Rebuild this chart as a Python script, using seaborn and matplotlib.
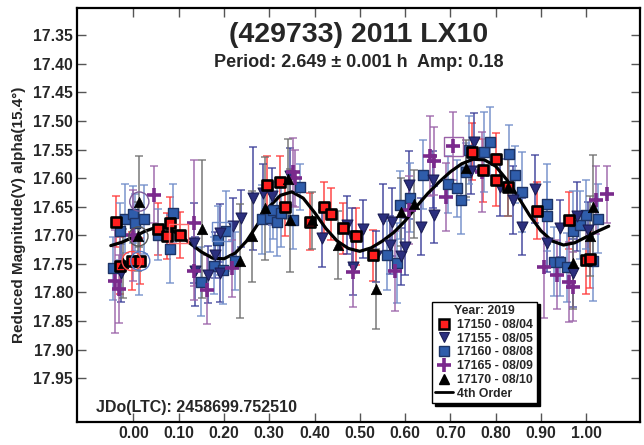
import matplotlib
matplotlib.use("Agg")
import matplotlib.pyplot as plt
from matplotlib.lines import Line2D
import numpy as np
import pandas as pd
import seaborn as sns

# ---- lightcurve data: phase, reduced magnitude, 1-sigma error ----
s17150_phase = [-0.038, -0.029, -0.004, 0.015, 0.055, 0.075, 0.081, 0.103, 0.295, 0.324,
                0.335, 0.390, 0.420, 0.436, 0.464, 0.492, 0.530, 0.748, 0.772, 0.801,
                0.801, 0.828, 0.891, 0.963, 0.999, 1.008]
s17150_mag = [17.676, 17.753, 17.745, 17.745, 17.689, 17.701, 17.678, 17.699, 17.612, 17.606,
              17.651, 17.676, 17.651, 17.663, 17.688, 17.702, 17.735, 17.554, 17.586, 17.566,
              17.603, 17.616, 17.657, 17.674, 17.743, 17.742]
s17150_err = [0.045, 0.050, 0.050, 0.040, 0.045, 0.040, 0.045, 0.040, 0.050, 0.045,
              0.050, 0.050, 0.045, 0.045, 0.045, 0.050, 0.045, 0.050, 0.055, 0.045,
              0.045, 0.050, 0.050, 0.050, 0.060, 0.050]

s17155_phase = [-0.028, 0.133, 0.136, 0.164, 0.180, 0.191, 0.191, 0.221, 0.237, 0.264,
                0.287, 0.307, 0.346, 0.417, 0.471, 0.482, 0.486, 0.508, 0.536, 0.552,
                0.566, 0.571, 0.591, 0.599, 0.609, 0.635, 0.661, 0.665, 0.745, 0.753,
                0.810, 0.839, 0.858, 0.888, 0.914, 0.943, 0.972, 0.979, 1.005]
s17155_mag = [17.766, 17.714, 17.763, 17.769, 17.734, 17.766, 17.696, 17.684, 17.670, 17.635,
              17.626, 17.632, 17.597, 17.705, 17.682, 17.702, 17.755, 17.689, 17.737, 17.671,
              17.717, 17.677, 17.737, 17.720, 17.612, 17.685, 17.603, 17.664, 17.587, 17.536,
              17.616, 17.638, 17.685, 17.619, 17.714, 17.688, 17.766, 17.667, 17.691]
s17155_err = [0.050, 0.070, 0.060, 0.050, 0.040, 0.050, 0.050, 0.050, 0.050, 0.090,
              0.050, 0.050, 0.050, 0.050, 0.050, 0.050, 0.050, 0.050, 0.045, 0.060,
              0.050, 0.060, 0.050, 0.050, 0.060, 0.050, 0.050, 0.050, 0.040, 0.050,
              0.050, 0.060, 0.050, 0.060, 0.050, 0.050, 0.060, 0.060, 0.050]

s17160_phase = [-0.046, -0.029, -0.018, 0.000, 0.004, 0.024, 0.013, 0.055, 0.081, 0.088,
                0.149, 0.177, 0.186, 0.197, 0.205, 0.225, 0.284, 0.301, 0.309, 0.318,
                0.326, 0.353, 0.367, 0.560, 0.583, 0.588, 0.611, 0.639, 0.694, 0.714,
                0.723, 0.735, 0.741, 0.775, 0.788, 0.830, 0.843, 0.858, 0.913, 0.913,
                0.928, 0.942, 0.957, 0.970, 0.987, 1.000, 1.015, 1.027]
s17160_mag = [17.758, 17.693, 17.671, 17.663, 17.678, 17.672, 17.745, 17.699, 17.724, 17.661,
              17.781, 17.753, 17.709, 17.760, 17.693, 17.745, 17.672, 17.670, 17.656, 17.676,
              17.661, 17.674, 17.615, 17.735, 17.749, 17.647, 17.634, 17.594, 17.611, 17.618,
              17.638, 17.589, 17.551, 17.555, 17.536, 17.557, 17.594, 17.625, 17.646, 17.667,
              17.746, 17.746, 17.756, 17.693, 17.682, 17.664, 17.745, 17.671]
s17160_err = [0.055, 0.050, 0.060, 0.050, 0.050, 0.060, 0.060, 0.045, 0.060, 0.050,
              0.060, 0.050, 0.060, 0.060, 0.070, 0.050, 0.060, 0.060, 0.050, 0.060,
              0.060, 0.050, 0.040, 0.060, 0.070, 0.060, 0.060, 0.060, 0.050, 0.050,
              0.060, 0.050, 0.060, 0.070, 0.060, 0.050, 0.050, 0.070, 0.070, 0.060,
              0.060, 0.060, 0.060, 0.070, 0.060, 0.060, 0.070, 0.060]

s17165_phase = [-0.040, -0.031, 0.000, 0.046, 0.133, 0.133, 0.162, 0.217, 0.353, 0.356,
                0.485, 0.578, 0.608, 0.656, 0.663, 0.691, 0.707, 0.770, 0.907, 0.935,
                0.963, 0.970, 1.022, 1.046]
s17165_mag = [17.780, 17.794, 17.700, 17.629, 17.679, 17.763, 17.795, 17.758, 17.589, 17.600,
              17.765, 17.762, 17.656, 17.562, 17.570, 17.633, 17.544, 17.589, 17.755, 17.769,
              17.781, 17.790, 17.638, 17.628]
s17165_err = [0.090, 0.060, 0.080, 0.050, 0.110, 0.050, 0.060, 0.050, 0.060, 0.050,
              0.060, 0.070, 0.060, 0.070, 0.060, 0.060, 0.060, 0.070, 0.090, 0.060,
              0.070, 0.060, 0.060, 0.050]

s17170_phase = [-0.022, 0.011, 0.013, 0.151, 0.236, 0.262, 0.291, 0.342, 0.346, 0.394,
                0.451, 0.536, 0.591, 0.620, 0.735, 0.828, 0.972, 1.009, 1.016]
s17170_mag = [17.749, 17.702, 17.641, 17.689, 17.745, 17.702, 17.653, 17.601, 17.674, 17.674,
              17.717, 17.794, 17.659, 17.645, 17.583, 17.616, 17.749, 17.702, 17.650]
s17170_err = [0.060, 0.060, 0.080, 0.120, 0.100, 0.080, 0.090, 0.070, 0.090, 0.050,
              0.060, 0.070, 0.060, 0.060, 0.050, 0.050, 0.080, 0.070, 0.090]

# flagged observations, drawn as open outlines around the points
ring_phase = [0.013, 0.011, -0.004, 0.015]
ring_mag = [17.641, 17.702, 17.745, 17.745]
ring_color = ["#7a5a9a", "#555555", "#ff4a4a", "#5a78c0"]
box_phase = [0.099, 0.707, 0.195]
box_mag = [17.697, 17.544, 17.693]
box_color = ["#ff6a6a", "#9a62a8", "#6f8cc9"]

# 4th-order Fourier fit, sampled along phase
fit_phase = [-0.050, -0.025, 0.000, 0.025, 0.050, 0.075, 0.100, 0.125, 0.150, 0.175,
             0.200, 0.225, 0.250, 0.275, 0.300, 0.325, 0.350, 0.375, 0.400, 0.425,
             0.450, 0.475, 0.500, 0.525, 0.550, 0.575, 0.600, 0.625, 0.650, 0.675,
             0.700, 0.725, 0.750, 0.775, 0.800, 0.825, 0.850, 0.875, 0.900, 0.925,
             0.950, 0.975, 1.000, 1.025, 1.050]
fit_mag = [17.718, 17.712, 17.703, 17.693, 17.686, 17.687, 17.698, 17.714, 17.729, 17.740,
           17.741, 17.731, 17.710, 17.680, 17.650, 17.630, 17.624, 17.635, 17.660, 17.688,
           17.710, 17.723, 17.728, 17.722, 17.710, 17.695, 17.675, 17.650, 17.627, 17.607,
           17.589, 17.575, 17.567, 17.568, 17.579, 17.603, 17.633, 17.665, 17.692, 17.710,
           17.717, 17.713, 17.703, 17.693, 17.684]

session_labels = ["17150 - 08/04", "17155 - 08/05", "17160 - 08/08",
                  "17165 - 08/09", "17170 - 08/10"]
x_ticks = [0.00, 0.10, 0.20, 0.30, 0.40, 0.50, 0.60, 0.70, 0.80, 0.90, 1.00]
y_ticks = [17.35, 17.40, 17.45, 17.50, 17.55, 17.60, 17.65, 17.70, 17.75, 17.80,
           17.85, 17.90, 17.95]

sessions = [
    (s17150_phase, s17150_mag, s17150_err),
    (s17155_phase, s17155_mag, s17155_err),
    (s17160_phase, s17160_mag, s17160_err),
    (s17165_phase, s17165_mag, s17165_err),
    (s17170_phase, s17170_mag, s17170_err),
]
frames = []
for lab, (p, m, e) in zip(session_labels, sessions):
    frames.append(pd.DataFrame({"phase": p, "mag": m, "err": e, "session": lab}))
df = pd.concat(frames, ignore_index=True)
fit_df = pd.DataFrame({"phase": fit_phase, "mag": fit_mag})

sns.set_theme(style="ticks")
plt.rcParams["font.family"] = ["Liberation Sans", "DejaVu Sans"]
plt.rcParams["font.weight"] = "bold"

fig = plt.figure(figsize=(6.44, 4.45), dpi=100)
W, H = 644.0, 445.0
L, R, T, B = 77.3, 640.0, 8.3, 422.3
ax = fig.add_axes([L / W, (H - B) / H, (R - L) / W, (B - T) / H])

styles = {
    "17150 - 08/04": dict(marker="s", s=56, color="#ff1e1e", edgecolor="black", linewidth=1.9,
                          bar="#ff3a3a", z=6),
    "17155 - 08/05": dict(marker="v", s=62, color="#2b2f7e", edgecolor="#1b1d55", linewidth=0.8,
                          bar="#3a3d98", z=4),
    "17160 - 08/08": dict(marker="s", s=56, color="#2f5dab", edgecolor="#1d3466", linewidth=1.0,
                          bar="#6f8cc9", z=3),
    "17165 - 08/09": dict(marker="+", s=90, color="#7a2a8c", edgecolor="#7a2a8c", linewidth=2.6,
                          bar="#9a62a8", z=5),
    "17170 - 08/10": dict(marker="^", s=56, color="black", edgecolor="black", linewidth=0.5,
                          bar="#6e6e6e", z=7),
}

# error bars first
for lab in session_labels:
    d = df[df.session == lab]
    st = styles[lab]
    ax.errorbar(d.phase, d.mag, yerr=d.err, fmt="none", ecolor=st["bar"],
                elinewidth=1.2, capsize=2.6, capthick=1.1, alpha=0.85, zorder=1)

# fitted curve
sns.lineplot(data=fit_df, x="phase", y="mag", color="black", linewidth=2.3,
             ax=ax, zorder=2, sort=False, legend=False)

# open outlines for flagged observations
ax.scatter(ring_phase, ring_mag, marker="o", s=190, facecolors="none",
           edgecolors=ring_color, linewidths=1.0, zorder=8)
ax.scatter(box_phase, box_mag, marker="s", s=190, facecolors="none",
           edgecolors=box_color, linewidths=1.0, zorder=8)

# data points
for lab in session_labels:
    d = df[df.session == lab]
    st = styles[lab]
    if st["marker"] == "+":
        ax.scatter(d.phase, d.mag, marker="+", s=st["s"], color=st["color"],
                   linewidths=st["linewidth"], zorder=st["z"])
    else:
        sns.scatterplot(data=d, x="phase", y="mag", marker=st["marker"], s=st["s"],
                        color=st["color"], edgecolor=st["edgecolor"], linewidth=st["linewidth"],
                        ax=ax, zorder=st["z"], legend=False)

ax.set_xlim(-0.124, 1.119)
ax.set_ylim(18.027, 17.303)
ax.set_xticks(x_ticks)
ax.set_xticklabels([f"{v:.2f}" for v in x_ticks])
ax.set_yticks(y_ticks)
ax.set_yticklabels([f"{v:.2f}" for v in y_ticks])
ax.tick_params(direction="in", length=6.5, width=1.0, color="#555555",
               top=True, right=True, labelsize=11.3, pad=3)
for lbl in ax.get_xticklabels() + ax.get_yticklabels():
    lbl.set_fontweight("bold")
for sp in ax.spines.values():
    sp.set_linewidth(1.6)
    sp.set_color("black")

ax.set_xlabel("")
ax.set_ylabel("Reduced Magnitude(V) alpha(15.4\u00b0)", fontsize=11, fontweight="bold")
ax.yaxis.set_label_coords(-0.092, 0.5)

ax.text(0.5, 0.935, "(429733) 2011 LX10", transform=ax.transAxes, ha="center", va="center",
        fontsize=20.5, fontweight="bold")
ax.text(0.5, 0.870, "Period: 2.649 \u00b1 0.001 h  Amp: 0.18", transform=ax.transAxes,
        ha="center", va="center", fontsize=13, fontweight="bold")
ax.text(0.034, 0.035, "JDo(LTC): 2458699.752510", transform=ax.transAxes, ha="left",
        va="center", fontsize=11.5, fontweight="bold")

handles = [
    Line2D([], [], ls="none", marker="s", ms=7.5, mfc="#ff1e1e", mec="black", mew=1.8),
    Line2D([], [], ls="none", marker="v", ms=7.5, mfc="#2b2f7e", mec="#1b1d55", mew=0.8),
    Line2D([], [], ls="none", marker="s", ms=7.5, mfc="#2f5dab", mec="#1d3466", mew=1.0),
    Line2D([], [], ls="none", marker="+", ms=10, mec="#7a2a8c", mew=2.6),
    Line2D([], [], ls="none", marker="^", ms=7.5, mfc="black", mec="black"),
    Line2D([], [], color="black", lw=2.0),
]
leg = ax.legend(handles, session_labels + ["4th Order"], title="Year: 2019",
                loc="lower left", bbox_to_anchor=(0.630, 0.046), frameon=True,
                fancybox=False, shadow={"color": "black", "alpha": 1.0},
                prop={"size": 8.8, "weight": "bold"}, handlelength=1.4, handletextpad=0.4,
                labelspacing=0.14, borderpad=0.3, borderaxespad=0.0)
leg.get_title().set_fontweight("bold")
leg.get_title().set_fontsize(8.8)
leg.get_frame().set_edgecolor("black")
leg.get_frame().set_linewidth(1.0)
leg.set_zorder(10)

fig.savefig("out.png", dpi=100)
